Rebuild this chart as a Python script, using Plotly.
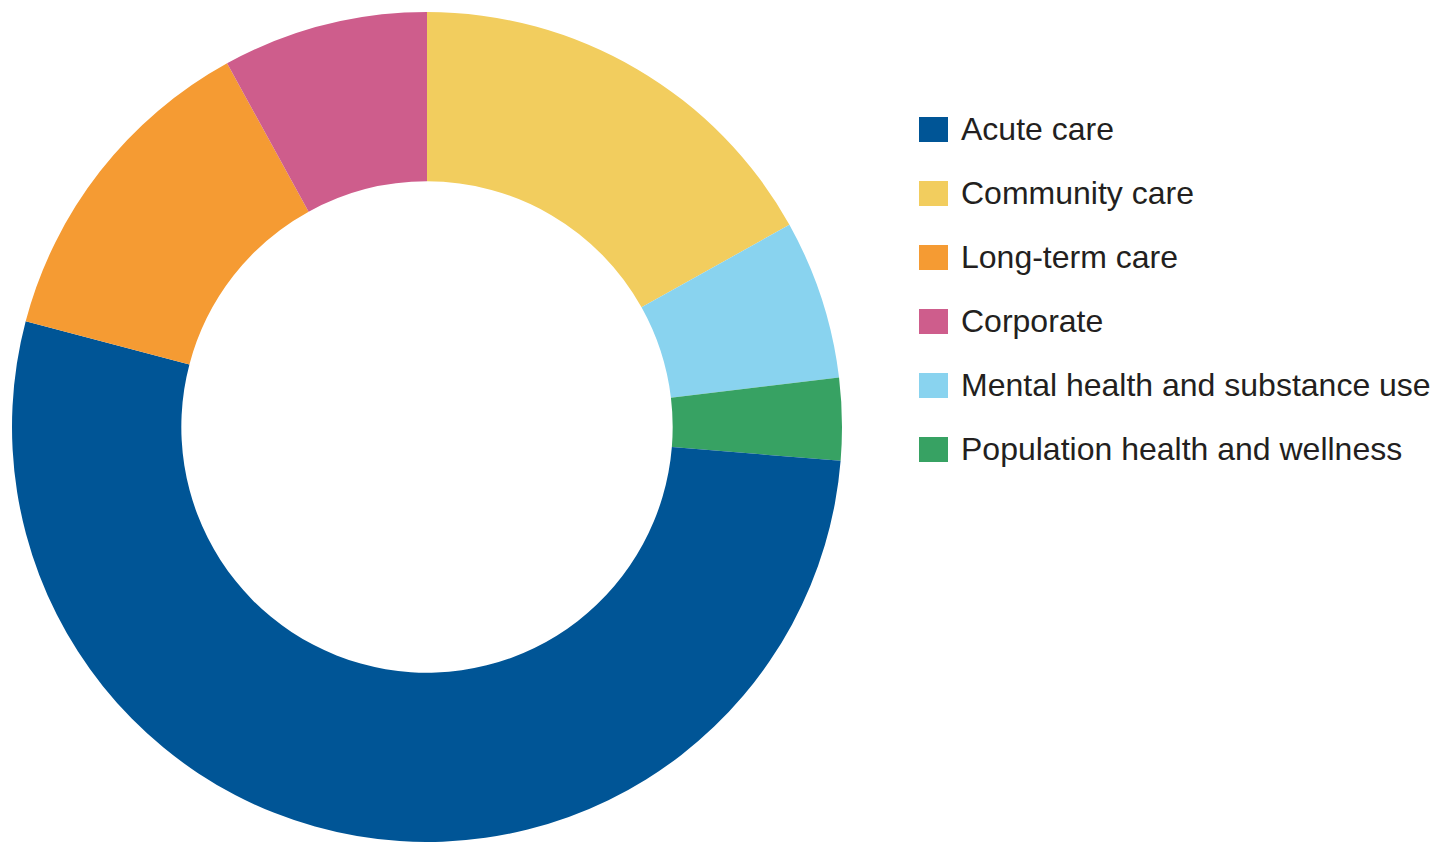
import plotly.graph_objects as go

# Slices in drawing order (clockwise from 12 o'clock)
slice_labels = ["Community care", "Mental health and substance use",
                "Population health and wellness", "Acute care",
                "Long-term care", "Corporate"]
slice_values = [16.9, 6.2, 3.2, 52.8, 12.9, 8.0]

# Legend order
legend_labels = ["Acute care", "Community care", "Long-term care", "Corporate",
                 "Mental health and substance use", "Population health and wellness"]

colors = {
    "Acute care": "#005596",
    "Community care": "#F2CD5E",
    "Long-term care": "#F59B33",
    "Corporate": "#CE5D8C",
    "Mental health and substance use": "#89D3EF",
    "Population health and wellness": "#37A263",
}

W, H = 1449, 842

fig = go.Figure()
fig.add_trace(go.Pie(
    labels=slice_labels,
    values=slice_values,
    sort=False,
    direction="clockwise",
    rotation=0,
    hole=0.592,
    marker=dict(colors=[colors[l] for l in slice_labels], line=dict(width=0)),
    textinfo="none",
    showlegend=False,
    domain=dict(x=[12 / W, 842 / W], y=[0, 830 / H]),
))

shapes = []
annotations = []
y0 = 129.5
step = 64
for i, lab in enumerate(legend_labels):
    yc = y0 + i * step
    shapes.append(dict(
        type="rect", xref="paper", yref="paper",
        x0=919 / W, x1=948 / W,
        y0=1 - (yc - 12.5) / H, y1=1 - (yc + 12.5) / H,
        fillcolor=colors[lab], line=dict(width=0),
    ))
    annotations.append(dict(
        text=lab, xref="paper", yref="paper",
        x=959 / W, y=1 - (yc - 0.5) / H, xanchor="left", yanchor="middle",
        showarrow=False,
        font=dict(family="Liberation Sans, Arial", size=32, color="#231F20"),
    ))

fig.update_layout(
    width=W, height=H,
    margin=dict(l=0, r=0, t=0, b=0),
    paper_bgcolor="white",
    plot_bgcolor="white",
    shapes=shapes,
    annotations=annotations,
    showlegend=False,
)

fig.write_html("out.html")
